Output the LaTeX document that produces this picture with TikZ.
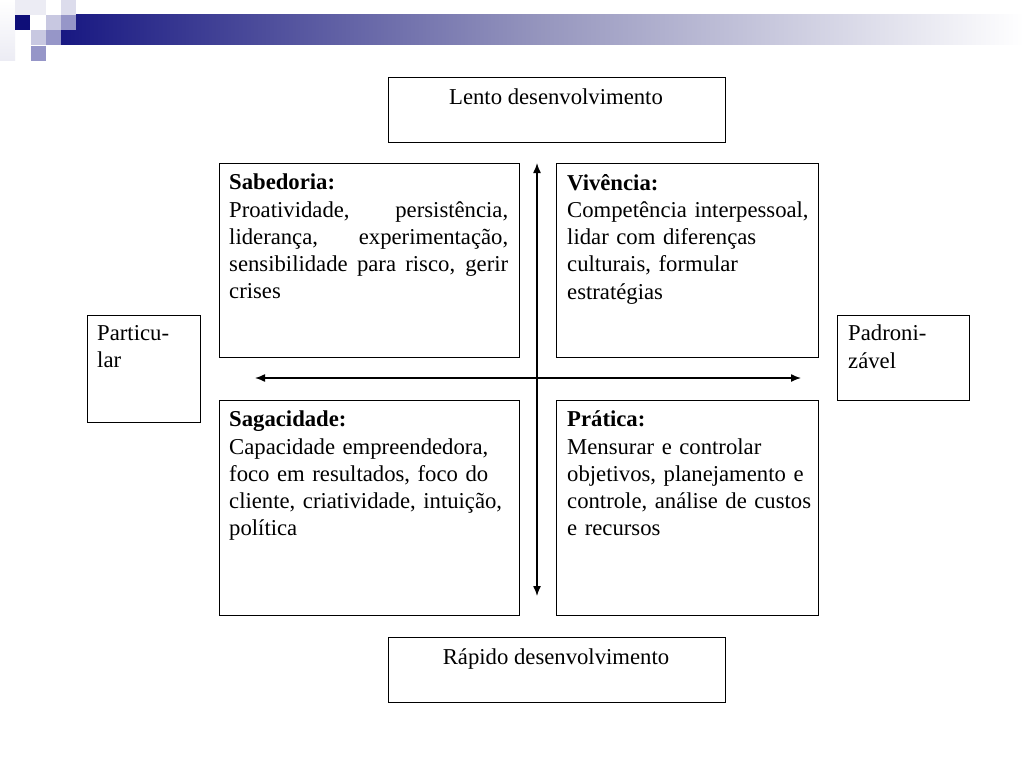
\documentclass[tikz,border=0pt]{standalone}
\usepackage{fontspec}
\setmainfont{Liberation Serif}
\usetikzlibrary{arrows.meta}
\definecolor{navy}{RGB}{14,14,120}
\definecolor{barleft}{RGB}{24,24,130}
\definecolor{sqlight}{RGB}{200,200,225}
\definecolor{sqmed}{RGB}{150,150,200}
\definecolor{sqvlight}{RGB}{220,220,236}
\definecolor{faint}{RGB}{236,236,244}
\tikzset{
  box/.style={draw=black, line width=1.2pt, fill=white},
  txt/.style={anchor=north west, inner sep=0pt, font=\fontsize{22.7}{27.2}\selectfont},
  ctxt/.style={anchor=north, inner sep=0pt, font=\fontsize{22.7}{27.2}\selectfont},
  axis/.style={line width=1.4pt, {Latex[length=10pt,width=8pt]}-{Latex[length=10pt,width=8pt]}},
}
\hyphenpenalty=10000\relax
\exhyphenpenalty=10000\relax
\begin{document}
\begin{tikzpicture}[x=1pt,y=-1pt]
\useasboundingbox (0,0) rectangle (1024,768);
\fill[white] (0,0) rectangle (1024,768);
% template decoration
\shade[left color=faint, right color=white, shading angle=180] (0,0) rectangle (15,60);
\fill[faint] (15,0) rectangle (46,15);
\shade[left color=barleft, right color=white, middle color={rgb,255:red,150;green,150;blue,190}] (61,15) rectangle (1024,45);
\fill[navy] (15,15) rectangle (30,30);
\fill[sqlight] (46,15) rectangle (61,30);
\fill[sqmed] (61,15) rectangle (76,30);
\fill[sqvlight] (61,0) rectangle (76,15);
\fill[sqlight] (31,30) rectangle (46,45);
\fill[sqmed] (46,30) rectangle (61,45);
\fill[sqmed] (31,46) rectangle (46,61);

% boxes
\node[box, minimum width=337pt, minimum height=65pt, anchor=north west] (lento) at (388,77) {};
\node[ctxt] (lentot) at (556,89) {Lento desenvolvimento};
\node[box, minimum width=337pt, minimum height=65pt, anchor=north west] (rapido) at (388,637) {};
\node[ctxt] (rapidot) at (556,649) {Rápido desenvolvimento};

\node[box, minimum width=300pt, minimum height=194pt, anchor=north west] (sab) at (219,163) {};
\node[txt, text width=279pt, align=justify] (sabt) at (229,174) {\textbf{Sabedoria:}\\Proatividade, persistência,\linebreak liderança, experimentação,\linebreak sensibilidade para risco, gerir\linebreak crises};

\node[box, minimum width=262pt, minimum height=194pt, anchor=north west] (viv) at (556,163) {};
\node[txt, text width=245pt, align=left] (vivt) at (567,174) {\textbf{Vivência:}\\Competência interpessoal,\\lidar com diferenças\\culturais, formular\\estratégias};

\node[box, minimum width=300pt, minimum height=215pt, anchor=north west] (sag) at (219,400) {};
\node[txt, text width=279pt, align=left] (sagt) at (229,411) {\textbf{Sagacidade:}\\Capacidade empreendedora,\\foco em resultados, foco do\\cliente, criatividade, intuição,\\política};

\node[box, minimum width=262pt, minimum height=215pt, anchor=north west] (pra) at (556,400) {};
\node[txt, text width=245pt, align=left] (prat) at (567,411) {\textbf{Prática:}\\Mensurar e controlar\\objetivos, planejamento e\\controle, análise de custos\\e recursos};

\node[box, minimum width=113pt, minimum height=107pt, anchor=north west] (part) at (87,315) {};
\node[txt, align=left] (partt) at (97,325) {Particu-\\lar};

\node[box, minimum width=132pt, minimum height=85pt, anchor=north west] (pad) at (837,315) {};
\node[txt, align=left] (padt) at (848,325) {Padroni-\\zável};

% axes
\coordinate (vtop) at (537,163);
\coordinate (vbot) at (537,596);
\coordinate (hl) at (255,378);
\coordinate (hr) at (801,378);
\draw[axis] (vtop) -- (vbot);
\draw[axis] (hl) -- (hr);
\end{tikzpicture}
\end{document}
